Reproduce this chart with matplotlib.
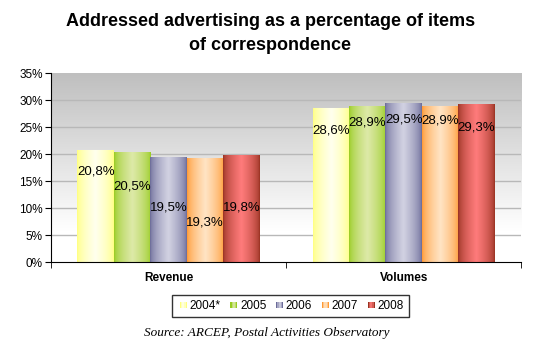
import numpy as np
import matplotlib
matplotlib.use("Agg")
import matplotlib.pyplot as plt
from matplotlib.colors import to_rgb
from matplotlib.patches import Rectangle
from matplotlib.legend_handler import HandlerBase

# data
categories = ["Revenue", "Volumes"]
years = ["2004*", "2005", "2006", "2007", "2008"]
revenue = [20.8, 20.5, 19.5, 19.3, 19.8]
volumes = [28.6, 28.9, 29.5, 28.9, 29.3]
labels_rev = ["20,8%", "20,5%", "19,5%", "19,3%", "19,8%"]
labels_vol = ["28,6%", "28,9%", "29,5%", "28,9%", "29,3%"]
yticks = [0, 5, 10, 15, 20, 25, 30, 35]

# style: edge colour / centre colour of each series gradient
edge_cols = ["#ffff80", "#99cc22", "#6b6b99", "#ff9933", "#993322"]
mid_cols = ["#ffffee", "#dde9a8", "#d2d2e2", "#ffe4c4", "#ff7b7b"]
# where excel put the labels (y in % units)
lab_y = [[16.9, 14.1, 10.2, 7.4, 10.2], [24.5, 25.9, 26.5, 26.2, 24.9]]

plt.rcParams['font.family'] = ['Liberation Sans', 'DejaVu Sans']

fig = plt.figure(figsize=(5.35, 3.46), dpi=100)
ax = fig.add_axes([0.0953, 0.2419, 0.879, 0.5462])


def gradient(c_edge, c_mid, n=64):
    t = np.linspace(0, 1, n)
    w = (1 - np.abs(2 * t - 1)) ** 0.6
    e = np.array(to_rgb(c_edge))
    m = np.array(to_rgb(c_mid))
    return (e[None, :] * (1 - w[:, None]) + m[None, :] * w[:, None])


# background gradient gray -> white
bg = np.linspace(0, 1, 100)
bgimg = np.zeros((100, 1, 3))
for k in range(3):
    bgimg[:, 0, k] = np.clip(0.75 + 0.3 * bg, 0, 1)
ax.imshow(bgimg, extent=[0, 1, 0, 1], transform=ax.transAxes, aspect='auto',
          zorder=0, origin='upper')

for yv in yticks[1:-1]:
    ax.axhline(yv, color="#b8b8b8", lw=1, zorder=1)

w = 0.155
n = len(years)
for ci, vals in enumerate([revenue, volumes]):
    labs = [labels_rev, labels_vol][ci]
    for i in range(n):
        x = ci + (i - (n - 1) / 2) * w
        bar = ax.bar(x, vals[i], width=w, color="none", edgecolor="none", zorder=2)[0]
        g = gradient(edge_cols[i], mid_cols[i])[None, :, :]
        im = ax.imshow(g, extent=[x - w / 2, x + w / 2, 0, vals[i]], aspect='auto', zorder=2)
        im.set_clip_path(bar)
        ax.text(x, lab_y[ci][i], labs[i], ha='center', va='center', fontsize=9.5, zorder=3)

ax.set_xlim(-0.5, 1.5)
ax.set_ylim(0, 35)
ax.set_yticks(yticks)
ax.set_yticklabels([f"{v}%" for v in yticks], fontsize=8.5)
ax.set_xticks([0, 1])
ax.set_xticklabels(categories, fontsize=8.5, fontweight='bold')
ax.tick_params(axis='x', which='major', length=0, pad=7)
ax.set_xticks([-0.5, 0.5, 1.5], minor=True)
ax.tick_params(axis='x', which='minor', length=4, direction='out')
ax.tick_params(axis='y', length=4, direction='out', pad=2)
ax.spines['top'].set_visible(False)
ax.spines['right'].set_visible(False)

fig.text(0.505, 0.903, "Addressed advertising as a percentage of items\nof correspondence",
         ha='center', va='center', fontsize=13, fontweight='bold', linespacing=1.5)


class GradHandler(HandlerBase):
    def create_artists(self, legend, orig_handle, xdescent, ydescent, width, height, fontsize, trans):
        cols = gradient(orig_handle[0], orig_handle[1], 6)
        arts = []
        s = height * 0.8
        x0 = width - s
        for j, c in enumerate(cols):
            arts.append(Rectangle((x0 - xdescent + j * s / 6, -ydescent + 0.1 * height), s / 6, s,
                                  facecolor=c, edgecolor='none', transform=trans))
        return arts


handles = [(edge_cols[i], mid_cols[i]) for i in range(n)]
leg = fig.legend(handles, years, handler_map={tuple: GradHandler()}, loc='center',
                 bbox_to_anchor=(0.543, 0.115), ncol=5, fontsize=8.5, frameon=True,
                 fancybox=False, edgecolor='black', handlelength=0.8, handletextpad=0.25,
                 columnspacing=0.6, borderpad=0.4)
leg.get_frame().set_linewidth(1.0)

fig.text(0.499, 0.037, "Source: ARCEP, Postal Activities Observatory", ha='center', va='center',
         fontsize=9.5, style='italic', family=['Liberation Serif', 'DejaVu Serif'])

fig.savefig("out.png", dpi=100)
